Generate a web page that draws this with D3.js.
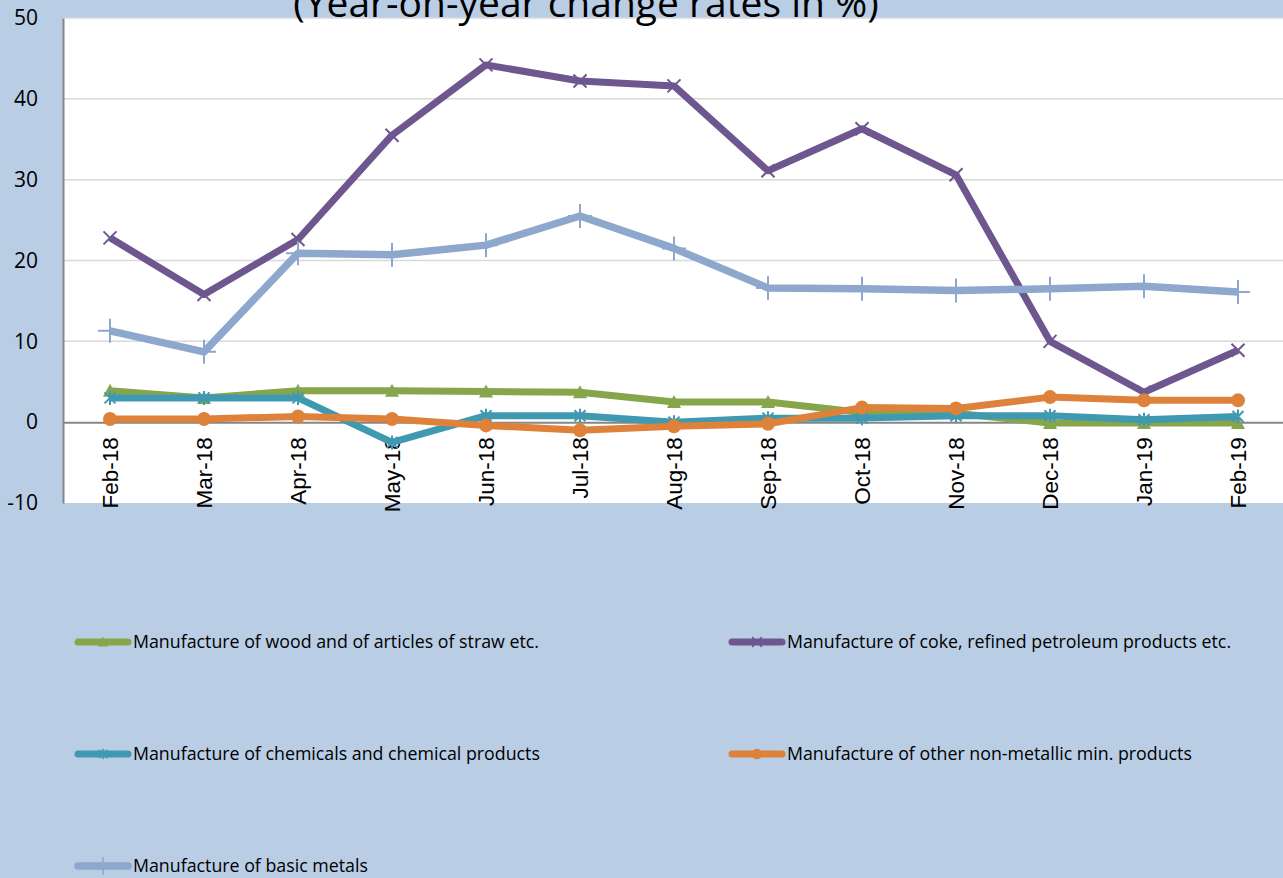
<!DOCTYPE html>
<html>
<head>
<meta charset="utf-8">
<script src="https://cdn.jsdelivr.net/npm/d3@7"></script>
<style>
  html, body { margin: 0; padding: 0; background: #B9CDE5; overflow: hidden; }
  svg { display: block; }
</style>
</head>
<body>
<div id="chart"></div>
<script>
// chart data
const months = ["Feb-18", "Mar-18", "Apr-18", "May-18", "Jun-18", "Jul-18", "Aug-18",
                "Sep-18", "Oct-18", "Nov-18", "Dec-18", "Jan-19", "Feb-19"];
const yTicks = [-10, 0, 10, 20, 30, 40, 50];

const woodVals     = [3.9, 3.0, 3.9, 3.9, 3.8, 3.7, 2.5, 2.5, 1.2, 1.1, -0.1, -0.1, -0.1];
const cokeVals     = [22.8, 15.8, 22.6, 35.5, 44.2, 42.2, 41.6, 31.1, 36.3, 30.6, 10.0, 3.7, 8.9];
const chemVals     = [3.0, 3.0, 3.0, -2.5, 0.8, 0.8, 0.0, 0.5, 0.5, 0.8, 0.8, 0.3, 0.7];
const mineralVals  = [0.4, 0.4, 0.7, 0.4, -0.4, -1.0, -0.5, -0.2, 1.8, 1.7, 3.1, 2.7, 2.7];
const metalVals    = [11.3, 8.7, 20.9, 20.7, 21.9, 25.5, 21.5, 16.6, 16.5, 16.3, 16.5, 16.8, 16.1];

const seriesNames = ["Manufacture of wood and of articles of straw etc.",
                     "Manufacture of coke, refined petroleum products etc.",
                     "Manufacture of chemicals and chemical products",
                     "Manufacture of other non-metallic min. products",
                     "Manufacture of basic metals"];

const titleText = "(Year-on-year change rates in %)";

// layout
const width = 1283, height = 878;
const plot = {left: 63, right: 1285, top: 18, bottom: 503};

// series table (name, values, look)
const series = [
    {name: seriesNames[0], values: woodVals,    color: "#87A54A", marker: "triangle", lw: 7},
    {name: seriesNames[1], values: cokeVals,    color: "#6E568F", marker: "x",        lw: 7},
    {name: seriesNames[2], values: chemVals,    color: "#3F99B1", marker: "star",     lw: 7},
    {name: seriesNames[3], values: mineralVals, color: "#DE823B", marker: "circle",   lw: 7},
    {name: seriesNames[4], values: metalVals,   color: "#8DA8CC", marker: "plus",     lw: 7.5}
];

const svg = d3.select("#chart")
    .append("svg")
        .attr("width", width)
        .attr("height", height);

// background
svg.append("rect")
    .attr("width", width)
    .attr("height", height)
    .attr("fill", "#B9CDE5");

// scales
const X_SCALE = d3.scaleBand()
    .domain(months)
    .range([plot.left, plot.right]);
const xc = (m) => X_SCALE(m) + X_SCALE.bandwidth() / 2;

const Y_SCALE = d3.scaleLinear()
    .domain([-10, 50])
    .range([plot.bottom, plot.top]);

// plot area
svg.append("rect")
    .attr("x", plot.left)
    .attr("y", plot.top)
    .attr("width", plot.right - plot.left)
    .attr("height", plot.bottom - plot.top)
    .attr("fill", "#ffffff");

// gridlines
svg.append("g")
    .selectAll("line")
    .data(yTicks.filter(t => t !== 0 && t !== -10))
    .enter()
    .append("line")
        .attr("x1", plot.left)
        .attr("x2", plot.right)
        .attr("y1", d => Y_SCALE(d))
        .attr("y2", d => Y_SCALE(d))
        .attr("stroke", "#D9D9D9")
        .attr("stroke-width", 1.5);

// y axis
const yAxis = svg.append("g")
    .attr("transform", "translate(" + plot.left + ",0)")
    .call(d3.axisLeft(Y_SCALE).tickValues(yTicks).tickSize(0).tickPadding(25)
        .tickFormat(d => String(d)));
yAxis.select(".domain").attr("stroke", "#868686").attr("stroke-width", 2);
yAxis.selectAll("text")
    .attr("font-family", "'Open Sans', sans-serif")
    .attr("font-size", "21px")
    .attr("fill", "#000");

// x axis on the zero line
const xAxis = svg.append("g")
    .attr("transform", "translate(0," + Y_SCALE(0) + ")")
    .call(d3.axisBottom(X_SCALE).tickSize(0));
xAxis.select(".domain").attr("stroke", "#868686").attr("stroke-width", 2);
xAxis.selectAll("text")
    .attr("font-family", "'Liberation Sans', Arial, sans-serif")
    .attr("font-size", "22.5px")
    .attr("fill", "#000")
    .attr("text-anchor", "end")
    .attr("transform", "rotate(-90)")
    .attr("x", -15)
    .attr("y", 0)
    .attr("dy", "0.36em");

// title (partly cut off at the top, as in the source)
svg.append("text")
    .attr("x", 586)
    .attr("y", 17)
    .attr("text-anchor", "middle")
    .attr("font-family", "'Open Sans', sans-serif")
    .attr("font-size", "39px")
    .attr("fill", "#000")
    .text(titleText);

// marker drawing
function drawMarker(g, type, color) {
    if (type === "triangle") {
        g.append("path").attr("d", "M0,-7 L7,6 L-7,6 Z").attr("fill", color);
    } else if (type === "circle") {
        g.append("circle").attr("r", 7).attr("fill", color);
    } else if (type === "x") {
        g.append("path").attr("d", "M-6.5,-6.5 L6.5,6.5 M-6.5,6.5 L6.5,-6.5")
            .attr("stroke", color).attr("stroke-width", 2);
    } else if (type === "star") {
        g.append("path").attr("d", "M-5.5,-5.5 L5.5,5.5 M-5.5,5.5 L5.5,-5.5 M0,-7 L0,7")
            .attr("stroke", color).attr("stroke-width", 2);
    } else if (type === "plus") {
        g.append("path").attr("d", "M-12,0 L12,0 M0,-12 L0,12")
            .attr("stroke", color).attr("stroke-width", 2);
    }
}

const line = d3.line()
    .x((d, i) => xc(months[i]))
    .y(d => Y_SCALE(d));

// lines and markers
series.forEach((s) => {
    const g = svg.append("g");
    g.append("path")
        .datum(s.values)
        .attr("d", line)
        .attr("fill", "none")
        .attr("stroke", s.color)
        .attr("stroke-width", s.lw)
        .attr("stroke-linejoin", "round");
    g.selectAll("g.pt")
        .data(s.values)
        .enter()
        .append("g")
            .attr("class", "pt")
            .attr("transform", (d, i) => "translate(" + xc(months[i]) + "," + Y_SCALE(d) + ")")
            .each(function() { drawMarker(d3.select(this), s.marker, s.color); });
});

// legend
const legendPos = [[75, 642], [729, 642], [75, 754], [729, 754], [75, 866]];
series.forEach((s, i) => {
    const [lx, ly] = legendPos[i];
    const lg = svg.append("g").attr("transform", "translate(" + lx + "," + ly + ")");
    lg.append("line")
        .attr("x1", 3).attr("x2", 53)
        .attr("y1", 0).attr("y2", 0)
        .attr("stroke", s.color)
        .attr("stroke-width", s.lw)
        .attr("stroke-linecap", "round");
    const m = lg.append("g").attr("transform", "translate(28,0) scale(0.75)");
    drawMarker(m, s.marker, s.color);
    lg.append("text")
        .attr("x", 58)
        .attr("y", 0)
        .attr("dy", "0.35em")
        .attr("font-family", "'Open Sans', sans-serif")
        .attr("font-size", "17.8px")
        .attr("fill", "#000")
        .text(s.name);
});
</script>
</body>
</html>
